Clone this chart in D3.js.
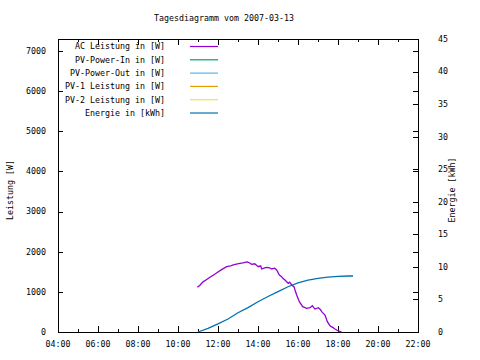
<!DOCTYPE html>
<html><head><meta charset="utf-8">
<script src="https://cdn.jsdelivr.net/npm/d3@7"></script>
<style>
body{margin:0;background:#fff;}
text{font-family:"DejaVu Sans Mono",monospace;font-size:8.3px;fill:#000;}
</style></head>
<body><svg id="c" width="480" height="360"></svg>
<script>
const title = "Tagesdiagramm vom 2007-03-13";
const yLabel = "Leistung [W]";
const y2Label = "Energie [kWh]";
const legendNames = ["AC Leistung in [W]","PV-Power-In in [W]","PV-Power-Out in [W]","PV-1 Leistung in [W]","PV-2 Leistung in [W]","Energie in [kWh]"];
const legendColors = ["#9400d3","#009e73","#56b4e9","#e69f00","#f0e442","#0072b2"];
const xTickLabels = ["04:00","06:00","08:00","10:00","12:00","14:00","16:00","18:00","20:00","22:00"];
const yTicks = [0,1000,2000,3000,4000,5000,6000,7000];
const y2Ticks = [0,5,10,15,20,25,30,35,40,45];

const acTimes = ["10:58","11:05","11:15","11:25","11:38","11:50","12:01","12:12","12:26","12:38","12:46","12:55","13:06","13:15","13:21","13:28","13:35","13:41","13:50","14:01","14:08","14:11","14:20","14:26","14:35","14:41","14:50","14:56","15:04","15:11","15:15","15:21","15:25","15:31","15:35","15:41","15:48","15:51","15:56","16:04","16:14","16:26","16:36","16:43","16:48","16:51","17:01","17:07","17:11","17:21","17:28","17:36","17:45","17:51","18:01","18:11"];
const acValues = [1114,1160,1250,1300,1378,1440,1503,1560,1628,1650,1670,1690,1711,1720,1736,1745,1720,1686,1700,1628,1650,1570,1600,1612,1600,1570,1590,1545,1420,1378,1330,1295,1260,1213,1240,1171,1129,1046,922,755,630,590,605,655,600,573,605,560,506,424,257,157,110,75,25,0];

const enTimes = ["11:00","11:30","12:00","12:30","13:00","13:30","14:00","14:30","15:00","15:30","16:00","16:30","17:00","17:30","18:00","18:30","18:45"];
const enValues = [0,0.55,1.25,2.0,2.95,3.75,4.65,5.45,6.2,6.95,7.55,7.95,8.25,8.42,8.55,8.6,8.6];

const svg = d3.select("#c");
const L=58,R=418,T=39,B=332;
const parse = d3.timeParse("%H:%M");
const x = d3.scaleTime().domain([parse("04:00"),parse("22:00")]).range([L,R]);
const y = d3.scaleLinear().domain([0,7300]).range([B,T]);
const y2 = d3.scaleLinear().domain([0,45]).range([B,T]);

svg.append("text").attr("x",224).attr("y",21).attr("text-anchor","middle").text(title);

// frame
svg.append("rect").attr("x",L+0.5).attr("y",T+0.5).attr("width",R-L).attr("height",B-T)
  .attr("fill","none").attr("stroke","#000").attr("stroke-width",1);

// x ticks (major every 2h, minor every 1h)
const hours = d3.range(4,23).map(h=>parse((h<10?"0":"")+h+":00"));
hours.forEach((d,i)=>{
  const px=Math.round(x(d))+0.5, len = i%2===0?6:3;
  svg.append("line").attr("x1",px).attr("x2",px).attr("y1",B).attr("y2",B-len).attr("stroke","#000");
  svg.append("line").attr("x1",px).attr("x2",px).attr("y1",T).attr("y2",T+len).attr("stroke","#000");
});
xTickLabels.forEach(s=>{
  svg.append("text").attr("x",x(parse(s))).attr("y",347).attr("text-anchor","middle").text(s);
});
// y ticks
yTicks.forEach(v=>{
  const py=Math.round(y(v))+0.5;
  svg.append("line").attr("x1",L).attr("x2",L+5).attr("y1",py).attr("y2",py).attr("stroke","#000");
  svg.append("line").attr("x1",R).attr("x2",R-5).attr("y1",py).attr("y2",py).attr("stroke","#000");
  svg.append("text").attr("x",46).attr("y",y(v)).attr("dy","0.35em").attr("text-anchor","end").text(v);
});
y2Ticks.forEach(v=>{
  const py=Math.round(y2(v))+0.5;
  svg.append("line").attr("x1",R).attr("x2",R-5).attr("y1",py).attr("y2",py).attr("stroke","#000");
  svg.append("text").attr("x",438).attr("y",y2(v)).attr("dy","0.35em").attr("text-anchor","start").text(v);
});
svg.append("text").attr("transform","translate(13,190) rotate(-90)").attr("text-anchor","middle").text(yLabel);
svg.append("text").attr("transform","translate(455,190) rotate(-90)").attr("text-anchor","middle").text(y2Label);

// legend
legendNames.forEach((n,i)=>{
  const ly=46.5+i*13.3;
  svg.append("text").attr("x",165).attr("y",ly).attr("dy","0.35em").attr("text-anchor","end").text(n);
  svg.append("line").attr("x1",190).attr("x2",218).attr("y1",ly).attr("y2",ly).attr("stroke",legendColors[i]).attr("stroke-width",1.2);
});

// data
const ac = acTimes.map((t,i)=>({t:parse(t),v:acValues[i]}));
const en = enTimes.map((t,i)=>({t:parse(t),v:enValues[i]}));
svg.append("path").datum(en).attr("fill","none").attr("stroke",legendColors[5]).attr("stroke-width",1.3)
  .attr("d",d3.line().x(d=>x(d.t)).y(d=>y2(d.v)));
svg.append("path").datum(ac).attr("fill","none").attr("stroke",legendColors[0]).attr("stroke-width",1.3)
  .attr("d",d3.line().x(d=>x(d.t)).y(d=>y(d.v)));
</script></body></html>
